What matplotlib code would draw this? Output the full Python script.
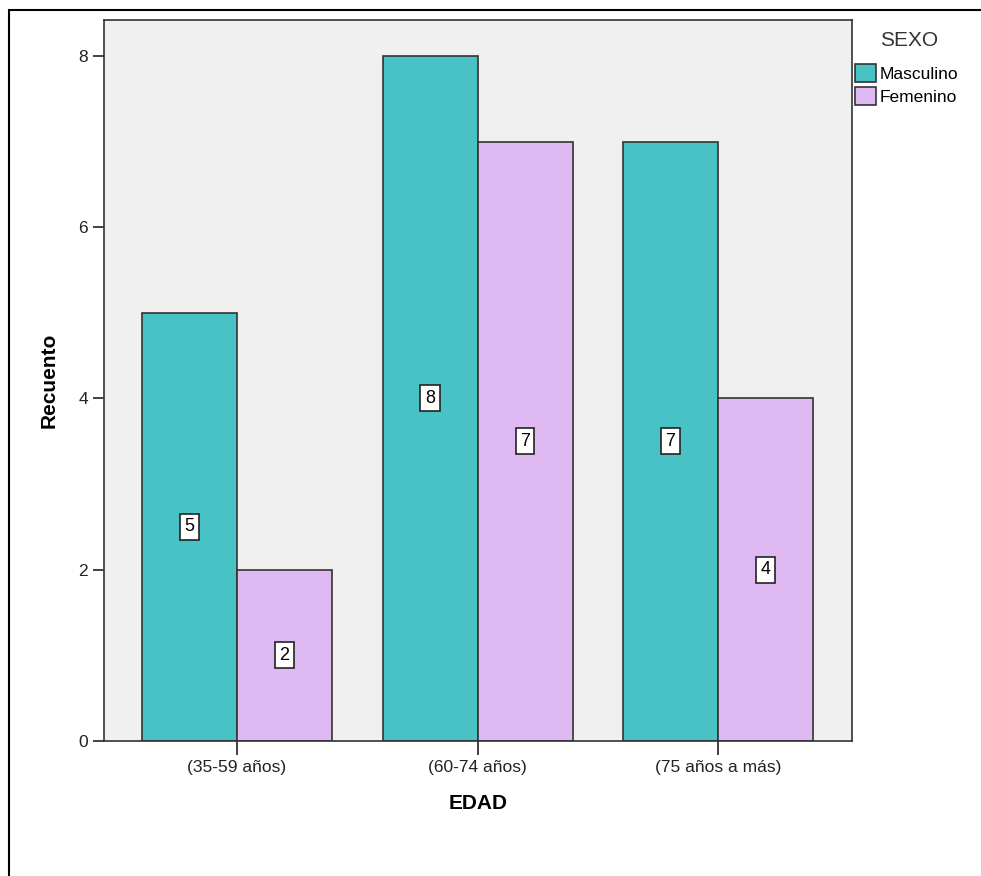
import matplotlib.pyplot as plt
import numpy as np
from matplotlib.patches import Rectangle

plt.rcParams['font.family'] = ['Liberation Sans', 'DejaVu Sans']

categorias = ['(35-59 años)', '(60-74 años)', '(75 años a más)']
masculino = [5, 8, 7]
femenino = [2, 7, 4]
series = ['Masculino', 'Femenino']
colores = ['#48C2C5', '#DFBAF2']

fig = plt.figure(figsize=(9.81, 8.76), dpi=100)
ax = fig.add_axes([0.106, 0.1541, 0.7625, 0.8231])
ax.set_facecolor('#F0F0F0')

x = np.arange(len(categorias))
w = 0.395
for vals, off, col, nom in [(masculino, -w / 2, colores[0], series[0]),
                            (femenino, w / 2, colores[1], series[1])]:
    ax.bar(x + off, vals, w, color=col, edgecolor='#333333', linewidth=1.2, label=nom)
    for xi, v in zip(x + off, vals):
        ax.text(xi, v / 2, str(v), ha='center', va='center', fontsize=13,
                bbox=dict(boxstyle='square,pad=0.25', fc='white', ec='#222222', lw=1.2))

ax.set_xlim(-0.553, 2.557)
ax.set_ylim(0, 8.42)
ax.set_yticks([0, 2, 4, 6, 8])
ax.set_xticks(x)
ax.set_xticklabels(categorias)
ax.tick_params(axis='y', length=8, width=1.2, labelsize=12.5, colors='#222222')
ax.tick_params(axis='x', length=10, width=1.2, labelsize=12.5, colors='#222222')
for s in ax.spines.values():
    s.set_linewidth(1.2)
    s.set_color('#333333')

ax.set_ylabel('Recuento', fontsize=15, fontweight='bold', labelpad=14)
ax.set_xlabel('EDAD', fontsize=15, fontweight='bold', labelpad=14)

# leyenda
fig.text(880 / 981, 1 - 40 / 876, 'SEXO', fontsize=15, color='#333333',
         ha='left', va='center')
ax.legend(loc='upper left', bbox_to_anchor=(855 / 981, 1 - 64 / 876),
          bbox_transform=fig.transFigure, frameon=False, fontsize=12.5,
          handlelength=1.2, handleheight=1.2, handletextpad=0.2,
          borderaxespad=0, borderpad=0, labelspacing=0.3)

# marco exterior
fig.patches.append(Rectangle((9 / 981, -0.01), 1.0, 1 - 10 / 876 + 0.01,
                             transform=fig.transFigure, fill=False,
                             edgecolor='black', linewidth=1.5))

fig.savefig('out.png', dpi=100)
